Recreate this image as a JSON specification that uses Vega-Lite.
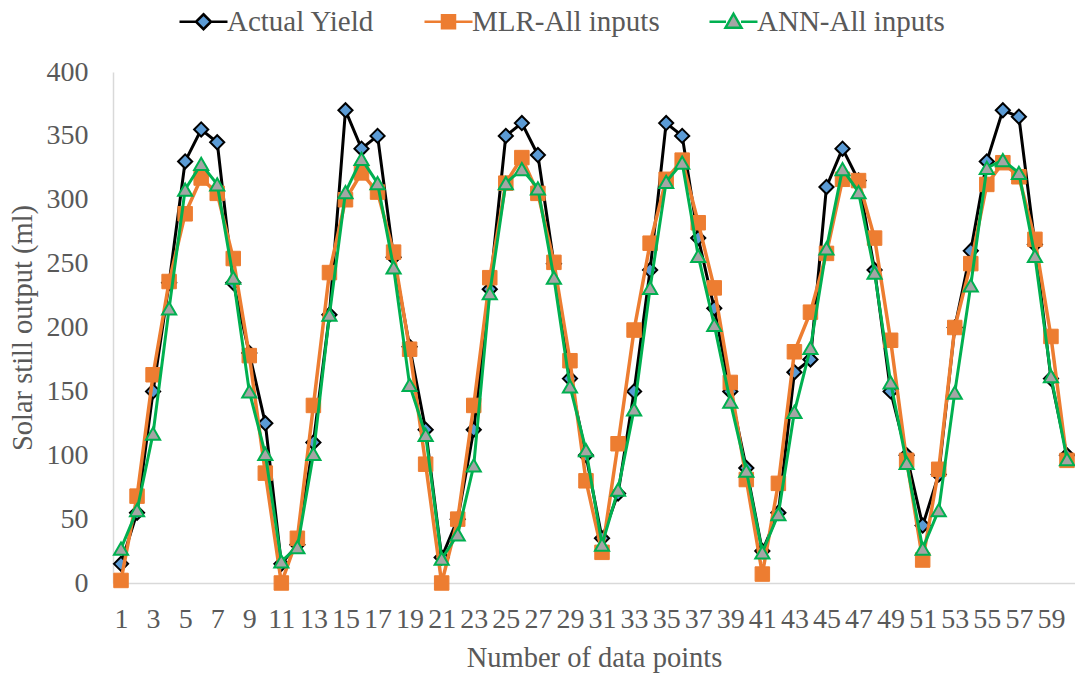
{
  "$schema": "https://vega.github.io/schema/vega-lite/v6.json",
  "width": 962,
  "height": 511,
  "autosize": {"type": "none"},
  "padding": {"left": 113, "top": 72, "right": 0, "bottom": 92},
  "background": "white",
  "config": {
    "font": "Liberation Serif",
    "view": {"stroke": null},
    "axis": {"labelFont": "Liberation Serif", "titleFont": "Liberation Serif", "labelColor": "#595959", "titleColor": "#595959", "labelFontSize": 28, "titleFontSize": 28.5, "titleFontWeight": "normal", "grid": false, "ticks": false, "domainColor": "#D9D9D9", "domainWidth": 1.5},
    "legend": {"labelFont": "Liberation Serif", "labelColor": "#595959", "labelFontSize": 29}
  },
  "data": {"values": [
    {"n":1,"Actual Yield":15,"MLR-All inputs":2,"ANN-All inputs":27},
    {"n":2,"Actual Yield":55,"MLR-All inputs":68,"ANN-All inputs":57},
    {"n":3,"Actual Yield":150,"MLR-All inputs":163,"ANN-All inputs":117},
    {"n":4,"Actual Yield":235,"MLR-All inputs":236,"ANN-All inputs":215},
    {"n":5,"Actual Yield":330,"MLR-All inputs":289,"ANN-All inputs":308},
    {"n":6,"Actual Yield":355,"MLR-All inputs":317,"ANN-All inputs":328},
    {"n":7,"Actual Yield":345,"MLR-All inputs":305,"ANN-All inputs":312},
    {"n":8,"Actual Yield":235,"MLR-All inputs":254,"ANN-All inputs":239},
    {"n":9,"Actual Yield":180,"MLR-All inputs":178,"ANN-All inputs":150},
    {"n":10,"Actual Yield":125,"MLR-All inputs":86,"ANN-All inputs":101},
    {"n":11,"Actual Yield":15,"MLR-All inputs":0,"ANN-All inputs":17},
    {"n":12,"Actual Yield":30,"MLR-All inputs":35,"ANN-All inputs":28},
    {"n":13,"Actual Yield":110,"MLR-All inputs":139,"ANN-All inputs":101},
    {"n":14,"Actual Yield":210,"MLR-All inputs":243,"ANN-All inputs":210},
    {"n":15,"Actual Yield":370,"MLR-All inputs":300,"ANN-All inputs":306},
    {"n":16,"Actual Yield":340,"MLR-All inputs":321,"ANN-All inputs":332},
    {"n":17,"Actual Yield":350,"MLR-All inputs":306,"ANN-All inputs":313},
    {"n":18,"Actual Yield":255,"MLR-All inputs":259,"ANN-All inputs":247},
    {"n":19,"Actual Yield":185,"MLR-All inputs":183,"ANN-All inputs":155},
    {"n":20,"Actual Yield":120,"MLR-All inputs":93,"ANN-All inputs":116},
    {"n":21,"Actual Yield":20,"MLR-All inputs":0,"ANN-All inputs":19},
    {"n":22,"Actual Yield":50,"MLR-All inputs":50,"ANN-All inputs":38},
    {"n":23,"Actual Yield":120,"MLR-All inputs":139,"ANN-All inputs":92},
    {"n":24,"Actual Yield":230,"MLR-All inputs":239,"ANN-All inputs":227},
    {"n":25,"Actual Yield":350,"MLR-All inputs":313,"ANN-All inputs":313},
    {"n":26,"Actual Yield":360,"MLR-All inputs":333,"ANN-All inputs":324},
    {"n":27,"Actual Yield":335,"MLR-All inputs":305,"ANN-All inputs":309},
    {"n":28,"Actual Yield":250,"MLR-All inputs":251,"ANN-All inputs":239},
    {"n":29,"Actual Yield":160,"MLR-All inputs":174,"ANN-All inputs":154},
    {"n":30,"Actual Yield":100,"MLR-All inputs":80,"ANN-All inputs":104},
    {"n":31,"Actual Yield":35,"MLR-All inputs":24,"ANN-All inputs":30},
    {"n":32,"Actual Yield":70,"MLR-All inputs":109,"ANN-All inputs":73},
    {"n":33,"Actual Yield":150,"MLR-All inputs":198,"ANN-All inputs":136},
    {"n":34,"Actual Yield":245,"MLR-All inputs":266,"ANN-All inputs":231},
    {"n":35,"Actual Yield":360,"MLR-All inputs":316,"ANN-All inputs":314},
    {"n":36,"Actual Yield":350,"MLR-All inputs":331,"ANN-All inputs":329},
    {"n":37,"Actual Yield":270,"MLR-All inputs":282,"ANN-All inputs":256},
    {"n":38,"Actual Yield":215,"MLR-All inputs":231,"ANN-All inputs":202},
    {"n":39,"Actual Yield":150,"MLR-All inputs":157,"ANN-All inputs":142},
    {"n":40,"Actual Yield":90,"MLR-All inputs":81,"ANN-All inputs":88},
    {"n":41,"Actual Yield":25,"MLR-All inputs":7,"ANN-All inputs":24},
    {"n":42,"Actual Yield":55,"MLR-All inputs":78,"ANN-All inputs":54},
    {"n":43,"Actual Yield":165,"MLR-All inputs":181,"ANN-All inputs":134},
    {"n":44,"Actual Yield":175,"MLR-All inputs":212,"ANN-All inputs":184},
    {"n":45,"Actual Yield":310,"MLR-All inputs":258,"ANN-All inputs":262},
    {"n":46,"Actual Yield":340,"MLR-All inputs":316,"ANN-All inputs":324},
    {"n":47,"Actual Yield":315,"MLR-All inputs":315,"ANN-All inputs":306},
    {"n":48,"Actual Yield":245,"MLR-All inputs":270,"ANN-All inputs":243},
    {"n":49,"Actual Yield":150,"MLR-All inputs":190,"ANN-All inputs":157},
    {"n":50,"Actual Yield":100,"MLR-All inputs":96,"ANN-All inputs":94},
    {"n":51,"Actual Yield":45,"MLR-All inputs":18,"ANN-All inputs":27},
    {"n":52,"Actual Yield":85,"MLR-All inputs":89,"ANN-All inputs":57},
    {"n":53,"Actual Yield":200,"MLR-All inputs":200,"ANN-All inputs":149},
    {"n":54,"Actual Yield":260,"MLR-All inputs":250,"ANN-All inputs":233},
    {"n":55,"Actual Yield":330,"MLR-All inputs":312,"ANN-All inputs":325},
    {"n":56,"Actual Yield":370,"MLR-All inputs":329,"ANN-All inputs":331},
    {"n":57,"Actual Yield":365,"MLR-All inputs":318,"ANN-All inputs":321},
    {"n":58,"Actual Yield":265,"MLR-All inputs":269,"ANN-All inputs":256},
    {"n":59,"Actual Yield":160,"MLR-All inputs":193,"ANN-All inputs":162},
    {"n":60,"Actual Yield":100,"MLR-All inputs":96,"ANN-All inputs":97}
  ]},
  "transform": [{"fold": ["Actual Yield", "MLR-All inputs", "ANN-All inputs"], "as": ["series", "value"]}],
  "encoding": {
    "x": {"field": "n", "type": "ordinal", "sort": null,
      "scale": {"type": "point", "padding": 0.5},
      "axis": {"values": [1,3,5,7,9,11,13,15,17,19,21,23,25,27,29,31,33,35,37,39,41,43,45,47,49,51,53,55,57,59], "labelAngle": 0, "labelOverlap": false, "labelPadding": 22, "title": "Number of data points", "titleY": 74, "titleBaseline": "middle"}},
    "y": {"field": "value", "type": "quantitative",
      "scale": {"domain": [0, 400], "nice": false},
      "axis": {"values": [0,50,100,150,200,250,300,350,400], "labelPadding": 25, "title": "Solar still output (ml)", "titleX": -91, "titleY": 255.5, "titleBaseline": "middle", "titleAngle": -90}}
  },
  "layer": [
    {"transform": [{"filter": "datum.series === 'Actual Yield'"}],
     "mark": {"type": "line", "strokeWidth": 3, "color": "#000000"},
     "encoding": {}},
    {"transform": [{"filter": "datum.series === 'Actual Yield'"}],
     "mark": {"type": "point", "shape": "diamond", "filled": true, "opacity": 1, "size": 200, "strokeWidth": 2, "fill": "#5B9BD5", "stroke": "#000000"},
     "encoding": {}},
    {"transform": [{"filter": "datum.series === 'MLR-All inputs'"}],
     "mark": {"type": "line", "strokeWidth": 3.5, "color": "#ED7D31"},
     "encoding": {}},
    {"transform": [{"filter": "datum.series === 'MLR-All inputs'"}],
     "mark": {"type": "point", "shape": "square", "filled": true, "opacity": 1, "size": 210, "strokeWidth": 1, "fill": "#ED7D31", "stroke": "#ED7D31"},
     "encoding": {}},
    {"transform": [{"filter": "datum.series === 'ANN-All inputs'"}],
     "mark": {"type": "line", "strokeWidth": 3, "color": "#00B050"},
     "encoding": {}},
    {"transform": [{"filter": "datum.series === 'ANN-All inputs'"}],
     "mark": {"type": "point", "shape": "triangle-up", "filled": true, "opacity": 1, "size": 200, "strokeWidth": 2, "fill": "#A5A5A5", "stroke": "#00B050"},
     "encoding": {}},
    {"transform": [{"filter": "datum.n < 0"}],
     "mark": {"type": "point", "filled": true, "opacity": 1, "strokeWidth": 2.5},
     "encoding": {
       "stroke": {"field": "series", "type": "nominal",
         "scale": {"domain": ["Actual Yield", "MLR-All inputs", "ANN-All inputs"], "range": ["#000000", "#ED7D31", "#00B050"]},
         "legend": {"orient": "none", "legendX": 76, "legendY": -65, "direction": "horizontal", "columns": 3, "title": null, "padding": 0, "symbolSize": 400, "symbolStrokeWidth": 2.5, "labelOffset": 9, "columnPadding": 44, "labelLimit": 400}},
       "fill": {"field": "series", "type": "nominal",
         "scale": {"domain": ["Actual Yield", "MLR-All inputs", "ANN-All inputs"], "range": ["#5B9BD5", "#ED7D31", "#A5A5A5"]},
         "legend": {"orient": "none", "legendX": 76, "legendY": -65, "direction": "horizontal", "columns": 3, "title": null, "padding": 0, "symbolSize": 400, "symbolStrokeWidth": 2.5, "labelOffset": 9, "columnPadding": 44, "labelLimit": 400}},
       "shape": {"field": "series", "type": "nominal",
         "scale": {"domain": ["Actual Yield", "MLR-All inputs", "ANN-All inputs"], "range": ["M-2.4,0H-0.75M0.75,0H2.4M0,-0.75L0.75,0L0,0.75L-0.75,0Z", "M-2.4,0H-0.65M0.65,0H2.4M-0.65,-0.65H0.65V0.65H-0.65Z", "M-2.4,0H-0.75M0.75,0H2.4M0,-0.8L0.8,0.6H-0.8Z"]},
         "legend": {"orient": "none", "legendX": 76, "legendY": -65, "direction": "horizontal", "columns": 3, "title": null, "padding": 0, "symbolSize": 400, "symbolStrokeWidth": 2.5, "labelOffset": 9, "columnPadding": 44, "labelLimit": 400}}
     }}
  ]
}
